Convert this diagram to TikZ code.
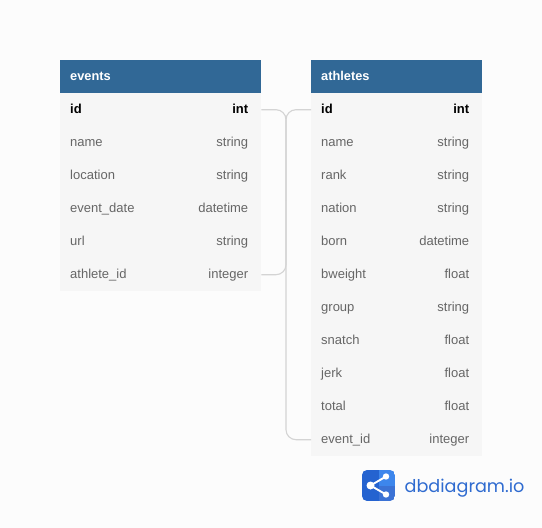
\documentclass[tikz,border=0pt]{standalone}
\usepackage{fontspec}
\setmainfont{Liberation Sans}
\newfontfamily\logofont{Poppins}
\definecolor{pagebg}{HTML}{FCFCFC}
\definecolor{rowbg}{HTML}{F6F6F6}
\definecolor{headbg}{HTML}{316896}
\definecolor{fieldgray}{HTML}{666666}
\definecolor{linkgray}{HTML}{D4D4D4}
\definecolor{logodark}{HTML}{2563D0}
\definecolor{logolight}{HTML}{3D86EC}
\definecolor{logotext}{HTML}{2F6BD0}
\tikzset{
  rowbox/.style={fill=rowbg,draw=none,inner sep=0pt,minimum height=33pt,anchor=north west},
  headbox/.style={fill=headbg,draw=none,inner sep=0pt,minimum height=33pt,anchor=north west},
  headtext/.style={anchor=base west,inner sep=0pt,text=white,font=\fontsize{12.8}{14}\selectfont\bfseries},
  fieldtext/.style={anchor=base west,inner sep=0pt,text=fieldgray,font=\fontsize{13}{15}\selectfont},
  typetext/.style={anchor=base east,inner sep=0pt,text=fieldgray,font=\fontsize{13}{15}\selectfont},
  pkfield/.style={anchor=base west,inner sep=0pt,text=black,font=\fontsize{13}{15}\selectfont\bfseries},
  pktype/.style={anchor=base east,inner sep=0pt,text=black,font=\fontsize{13}{15}\selectfont\bfseries},
  link/.style={draw=linkgray,line width=1.1pt,rounded corners=10pt},
}
\newcommand{\tblrow}[8]{% name, x, width, y, field, type, fieldstyle, typestyle
  \node[rowbox,minimum width=#3pt] (#1) at (#2,#4) {};
  \node[#7] (#1-f) at (#2+10,#4+20) {#5};
  \node[#8] (#1-t) at (#2+#3-12.6,#4+20) {#6};
}
\begin{document}
\begin{tikzpicture}[x=1pt,y=-1pt]
\useasboundingbox[fill=pagebg] (0,0) rectangle (542,528);
% events
\node[headbox,minimum width=201pt] (ehead) at (60,60) {};
\node[headtext] (etitle) at (70,80) {events};
\tblrow{e1}{60}{201}{93}{id}{int}{pkfield}{pktype}
\tblrow{e2}{60}{201}{126}{name}{string}{fieldtext}{typetext}
\tblrow{e3}{60}{201}{159}{location}{string}{fieldtext}{typetext}
\tblrow{e4}{60}{201}{192}{event\_date}{datetime}{fieldtext}{typetext}
\tblrow{e5}{60}{201}{225}{url}{string}{fieldtext}{typetext}
\tblrow{e6}{60}{201}{258}{athlete\_id}{integer}{fieldtext}{typetext}
% athletes
\node[headbox,minimum width=171pt] (ahead) at (311,60) {};
\node[headtext] (atitle) at (321,80) {athletes};
\tblrow{a1}{311}{171}{93}{id}{int}{pkfield}{pktype}
\tblrow{a2}{311}{171}{126}{name}{string}{fieldtext}{typetext}
\tblrow{a3}{311}{171}{159}{rank}{string}{fieldtext}{typetext}
\tblrow{a4}{311}{171}{192}{nation}{string}{fieldtext}{typetext}
\tblrow{a5}{311}{171}{225}{born}{datetime}{fieldtext}{typetext}
\tblrow{a6}{311}{171}{258}{bweight}{float}{fieldtext}{typetext}
\tblrow{a7}{311}{171}{291}{group}{string}{fieldtext}{typetext}
\tblrow{a8}{311}{171}{324}{snatch}{float}{fieldtext}{typetext}
\tblrow{a9}{311}{171}{357}{jerk}{float}{fieldtext}{typetext}
\tblrow{a10}{311}{171}{390}{total}{float}{fieldtext}{typetext}
\tblrow{a11}{311}{171}{423}{event\_id}{integer}{fieldtext}{typetext}
% connectors
\coordinate (spine) at (286,200);
\draw[link] (e1.east) -| (spine);
\draw[link] (a1.west) -| (spine);
\draw[link] (e6.east) -| (spine);
\draw[link] (a11.west) -| (spine);
% logo
\begin{scope}
  \clip[rounded corners=5pt] (362,470) rectangle (395,501);
  \fill[logodark] (362,470) rectangle (378.5,501);
  \fill[logolight] (378.5,470) rectangle (395,486);
  \fill[logodark!90!white] (378.5,486) rectangle (395,501);
\end{scope}
\coordinate (lg0) at (370.5,485.5);
\coordinate (lg1) at (386,476.5);
\coordinate (lg2) at (386,494.5);
\draw[white,line width=1.9pt] (lg1) -- (lg0) -- (lg2);
\fill[white] (lg0) circle (4) (lg1) circle (3.2) (lg2) circle (3.2);
\node[anchor=base west,inner sep=0pt,text=logotext,font=\logofont\fontsize{17.6}{22}\selectfont] (logo) at (404.5,492.5) {dbdiagram.io};
\end{tikzpicture}
\end{document}
